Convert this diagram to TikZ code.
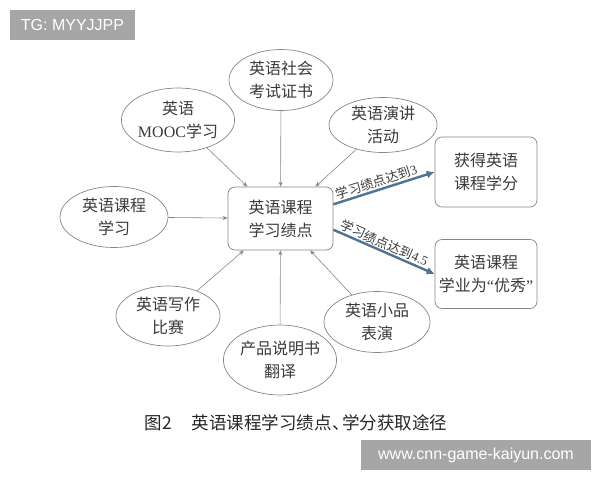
\documentclass[tikz,border=0pt]{standalone}
\usepackage{fontspec}
\setmainfont{Liberation Serif}
\newfontfamily\cjk{Noto Sans CJK SC}
\newfontfamily\wmfont{Liberation Sans}
\usetikzlibrary{shapes.geometric,arrows.meta}

\definecolor{inkgray}{HTML}{3A3A3A}
\definecolor{rimgray}{HTML}{858585}
\definecolor{passblue}{HTML}{4F7393}
\definecolor{markgray}{HTML}{A6A6A6}

\tikzset{
  oval/.style={ellipse, draw=rimgray, line width=0.7pt, inner sep=0pt,
    align=center, text=inkgray, font=\cjk\fontsize{16}{23}\selectfont},
  goal/.style={rectangle, rounded corners=7pt, draw=rimgray, line width=0.7pt,
    inner sep=0pt, align=center, text=inkgray, font=\cjk\fontsize{16}{23}\selectfont},
  feed/.style={draw=rimgray, line width=0.6pt, -{Stealth[length=5pt,width=4pt]}},
  pass/.style={draw=passblue, line width=2.4pt, -{Latex[length=8pt,width=8pt]}},
  wmark/.style={fill=markgray, text=white, inner sep=0pt, font=\wmfont\fontsize{16}{18}\selectfont}
}

\begin{document}
\begin{tikzpicture}[x=1pt, y=-1pt]
      \useasboundingbox (0,0) rectangle (600,480);

      \begin{scope}[every node/.style={oval}]
        \node[minimum width=104pt, minimum height=61pt] (soc)   at (281,80)  {英语社会\\考试证书};
        \node[minimum width=108pt, minimum height=64pt] (mooc)  at (178,120) {英语\\{\rmfamily MOOC}学习};
        \node[minimum width=108pt, minimum height=55pt] (talk)  at (383,125) {英语演讲\\活动};
        \node[minimum width=108pt, minimum height=61pt] (study) at (114,217) {英语课程\\学习};
        \node[minimum width=104pt, minimum height=60pt] (write) at (168,316) {英语写作\\比赛};
        \node[minimum width=106pt, minimum height=70pt] (trans) at (280,360) {产品说明书\\翻译};
        \node[minimum width=106pt, minimum height=61pt] (play)  at (377,322) {英语小品\\表演};
      \end{scope}

      \begin{scope}[every node/.style={goal}]
        \node[minimum width=105pt, minimum height=63pt] (core)   at (280.5,218.5) {英语课程\\学习绩点};
        \node[minimum width=102pt, minimum height=70pt] (credit) at (486,172) {获得英语\\课程学分};
        \node[minimum width=102pt, minimum height=69pt] (honor)  at (486,274) {英语课程\\学业为{\rmfamily “}优秀{\rmfamily ”}};
      \end{scope}

      \begin{scope}[every edge/.style={feed}]
        \path (soc)   edge (core);
        \path (mooc)  edge (core);
        \path (talk)  edge (core);
        \path (study) edge (core);
        \path (write) edge (core);
        \path (trans) edge (core);
        \path (play)  edge (core);
      \end{scope}

      \begin{scope}[every node/.style={sloped, above, inner sep=1pt, text=inkgray,
          font=\cjk\fontsize{13}{15}\selectfont}]
        \path[pass] (core.15) -- node[pos=0.45] {学习绩点达到{\rmfamily 3}} (credit.west);
        \path[pass] (core.-12) -- node[pos=0.47] {学习绩点达到{\rmfamily 4.5}} (honor.west);
      \end{scope}

      \node[text=black!85, font=\cjk\fontsize{17.5}{20}\selectfont] (title) at (296,423)
        {图2\hspace{20pt}英语课程学习绩点\hspace{1pt}、\hspace{-8pt}学分获取途径};

      \node[wmark, minimum width=125pt, minimum height=30pt] (tg)  at (72.5,25) {TG: MYYJJPP};
      \node[wmark, minimum width=230pt, minimum height=30pt] (web) at (476,455) {www.cnn-game-kaiyun.com};

    \end{tikzpicture}
\end{document}
